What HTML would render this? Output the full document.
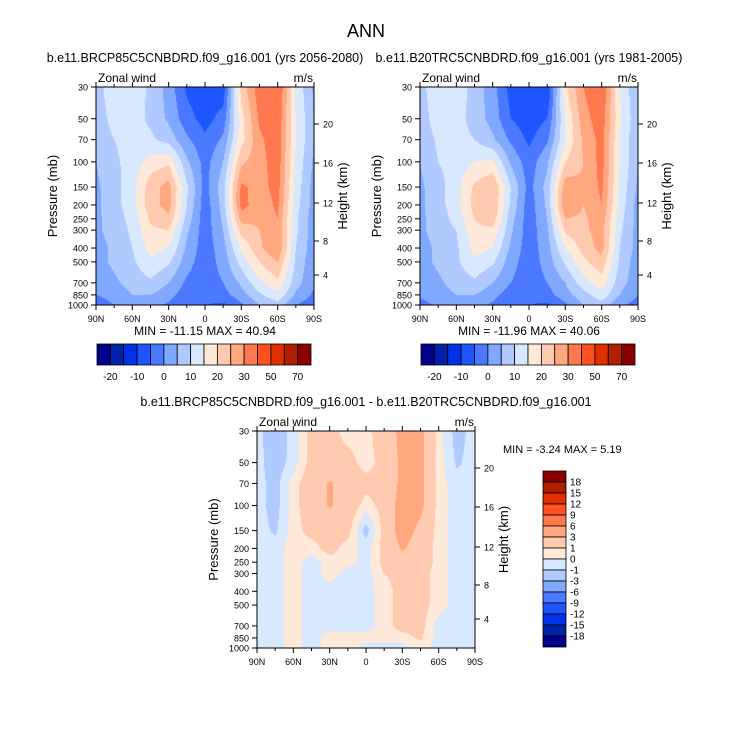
<!DOCTYPE html>
<html><head><meta charset="utf-8">
<style>
html,body{margin:0;padding:0;background:#fff;width:733px;height:741px;overflow:hidden}
canvas{position:absolute}
svg{position:absolute;left:0;top:0}
text{font-family:"Liberation Sans",sans-serif;fill:#000}
</style></head><body>
<canvas id="c1" width="218" height="218" style="left:96px;top:87px"></canvas>
<canvas id="c2" width="218" height="218" style="left:420px;top:87px"></canvas>
<canvas id="c3" width="218" height="217" style="left:257px;top:431px"></canvas>
<svg id="ov" width="733" height="741"></svg>
<script>
const lats=["90N","75N","60N","45N","30N","15N","0","15S","30S","45S","60S","75S","90S"];
const plevs=[30,50,70,100,150,200,250,300,400,500,700,850,1000];
const fieldLevels=[-20,-15,-10,-5,0,5,10,15,20,25,30,40,50,60,70];
const diffLevels=[-18,-15,-12,-9,-6,-3,-1,0,1,3,6,9,12,15,18];
const fieldTickLabels=["-20","-10","0","10","20","30","50","70"];
const heightTicks=[4,8,12,16,20];
const latTickLabels=["90N","60N","30N","0","30S","60S","90S"];
const palette=["#00008a","#0022a8","#0033e6","#1e55ff","#4a78ff","#80a8ff","#b0caff","#d8e8ff","#ffe9d8","#ffcab0","#ffa880","#ff7850","#ff5020","#e03000","#b02000","#8a0000"];
const futureU=[
[8,13,13,9,3,-6,-9,-8,22,33,36,14,4],
[7,12,12,9,4,-3,-7,-3,18,31,34,15,5],
[6,10,12,11,8,1,-4,1,18,29,33,15,5],
[5,9,12,17,19,6,-2,5,24,28,33,14,4],
[4,8,13,23,27,11,-2,8,31,28,32,13,3],
[4,8,13,23,27,10,-3,7,32,27,31,12,3],
[4,7,12,21,24,8,-3,6,27,26,30,11,2],
[4,7,11,19,20,6,-3,5,22,25,29,11,2],
[3,6,10,17,15,4,-3,3,16,24,30,10,2],
[3,6,9,14,11,2,-3,2,12,20,25,9,1],
[2,4,7,9,5,-1,-3,0,6,14,19,7,1],
[0,2,5,5,2,-3,-3,-2,3,9,14,4,-1],
[-3,0,3,2,-1,-5,-5,-6,-1,5,8,0,-3]];
const historicalU=[
[8,14,13,8,2,-7,-10,-10,19,30,35,15,5],
[7,13,12,8,3,-5,-8,-5,15,28,33,16,6],
[6,11,12,10,6,-1,-6,-1,15,26,32,15,5],
[5,10,12,15,16,4,-3,4,20,25,32,15,5],
[4,8,13,21,25,10,-2,7,28,26,31,14,4],
[4,8,13,22,25,9,-3,6,30,25,30,13,3],
[4,7,12,20,23,7,-3,5,25,24,28,12,3],
[4,7,10,19,19,6,-3,4,21,24,27,11,3],
[3,6,9,17,15,4,-3,3,15,22,27,10,3],
[3,6,9,14,11,2,-3,2,11,19,23,9,2],
[2,4,7,9,5,0,-3,0,5,13,18,7,2],
[1,3,5,5,2,-3,-3,-2,3,8,13,5,0],
[-2,1,3,2,-1,-5,-5,-6,-1,5,8,1,-2]];
const diffU=[
[-0.5,-2,-0.5,1.5,1.5,0.5,0.5,2,3.5,3.5,0.5,-1.5,-0.5],
[-0.5,-1.8,-0.5,1.5,1.5,1.5,0.5,1.5,3.5,3.5,0.5,-1.2,-0.5],
[-0.5,-1.5,0.5,2,3.2,2,1.5,1.5,3.5,3.5,0.5,-0.5,-0.5],
[-0.5,-1.5,0.5,2,3.2,2,0.5,1.5,4,3.5,0.5,-0.5,-0.5],
[-0.5,-1.2,0.5,1.5,1.5,1.5,-1.5,1.5,4,2.5,0.5,-0.5,-0.5],
[-0.5,-0.5,0.5,0.5,1.5,0.5,-0.5,1.5,3.2,2,0.5,-0.5,-0.5],
[-0.5,-0.5,0.5,-0.5,0.5,0.5,-0.5,1.5,2,2,0.5,-0.5,-0.5],
[-0.5,-0.5,0.5,-0.5,0.5,-0.5,-0.5,1,1.5,1.5,0.5,-0.5,-0.5],
[-0.5,-0.5,0.5,-0.5,-0.5,-0.5,-0.5,0.5,1.5,1.5,0.5,-0.5,-0.5],
[-0.5,-0.5,0.5,-0.5,-0.5,-0.5,-0.5,0.5,1.5,1.5,0.5,-0.5,-0.5],
[-0.5,-0.5,0.5,-0.5,-0.5,-0.5,-0.5,0.5,1.5,1.5,-0.5,-0.5,-0.5],
[-0.5,-0.5,0.5,-0.5,0.5,0.5,0.5,0.5,0.5,1.2,-0.5,-0.5,-0.5],
[-0.5,-0.5,0.5,-0.5,0.5,0.5,-0.5,-0.5,-0.5,0.5,-0.5,-0.5,-0.5]];

const LN=Math.log(1000/30);
function yOfP(p,H){return H*Math.log(p/30)/LN;}
const lnp=plevs.map(p=>Math.log(p));
function sample(g,fx,lp){
  let c=Math.min(11,Math.max(0,Math.floor(fx))),tx=fx-c;
  let r=0;while(r<11&&lp>lnp[r+1])r++;
  let ty=(lp-lnp[r])/(lnp[r+1]-lnp[r]);ty=Math.max(0,Math.min(1,ty));
  const a=g[r][c],b=g[r][c+1],d=g[r+1][c],e=g[r+1][c+1];
  return (a*(1-tx)+b*tx)*(1-ty)+(d*(1-tx)+e*tx)*ty;
}
function colorFor(v,lv){let i=0;while(i<lv.length&&v>=lv[i])i++;return palette[i];}
function drawField(id,g,lv){
  const cv=document.getElementById(id),ctx=cv.getContext('2d'),W=cv.width,H=cv.height;
  for(let y=0;y<H;y++){const lp=Math.log(30)+(y+0.5)/H*LN;
    for(let x=0;x<W;x++){const fx=(x+0.5)/W*12;
      ctx.fillStyle=colorFor(sample(g,fx,lp),lv);ctx.fillRect(x,y,1,1);}}
}
drawField('c1',futureU,fieldLevels);
drawField('c2',historicalU,fieldLevels);
drawField('c3',diffU,diffLevels);

const NS="http://www.w3.org/2000/svg";
const ov=document.getElementById('ov');
function el(tag,attrs,txt){const e=document.createElementNS(NS,tag);for(const k in attrs)e.setAttribute(k,attrs[k]);if(txt!==undefined)e.textContent=txt;ov.appendChild(e);return e;}
function t(x,y,s,size,anchor,name,rot){const e=el('text',{x:x,y:y,'font-size':size,'text-anchor':anchor||'middle'},s);if(rot)e.setAttribute('transform','rotate(-90 '+x+' '+y+')');

return e;}

t(366,37,"ANN",18,'middle','main-title');
t(205,62,"b.e11.BRCP85C5CNBDRD.f09_g16.001 (yrs 2056-2080)",12.5,'middle','left-subtitle');
t(529,62,"b.e11.B20TRC5CNBDRD.f09_g16.001 (yrs 1981-2005)",12.5,'middle','right-subtitle');
t(366,406,"b.e11.BRCP85C5CNBDRD.f09_g16.001 - b.e11.B20TRC5CNBDRD.f09_g16.001",12.5,'middle','diff-subtitle');

const heightOff=[188,154,116,76,37];
function axes(L,T,W,H,pre,minmax){
  const fr=el('rect',{x:L,y:T,width:W,height:H,fill:'none',stroke:'#000','stroke-width':1});
  
  
  t(L+2,T-5,"Zonal wind",12,'start',pre+'-left-label');
  t(L+W-1,T-5,"m/s",12,'end',pre+'-right-label');
  plevs.forEach(p=>{const y=T+yOfP(p,H);
    const k=el('line',{x1:L-5,x2:L,y1:y,y2:y,stroke:'#000'});
    
    
    t(L-8,y+3.5,String(p),9,'end','pressure-tick-label');});
  heightTicks.forEach((h,i)=>{const y=T+heightOff[i];
    const k=el('line',{x1:L+W,x2:L+W+5,y1:y,y2:y,stroke:'#000'});
    
    
    t(L+W+9,y+3.5,String(h),9,'start','height-tick-label');});
  for(let i=0;i<=12;i++){const x=L+W*i/12,len=(i%2===0)?5:3;
    const a=el('line',{x1:x,x2:x,y1:T+H,y2:T+H+len,stroke:'#000'});
    
    
    const b=el('line',{x1:x,x2:x,y1:T,y2:T-len,stroke:'#000'});
    
    }
  latTickLabels.forEach((s,i)=>t(L+W*i/6,T+H+17,s,9,'middle','lat-tick-label'));
  t(L-39,T+H/2,"Pressure (mb)",13,'middle',pre+'-y-axis-title',true);
  t(L+W+33,T+H/2,"Height (km)",13,'middle',pre+'-y2-axis-title',true);
  if(minmax)t(L+W/2,T+H+30,minmax,12,'middle',pre+'-min-max');
}
axes(96,87,218,218,'future',"MIN = -11.15  MAX =  40.94");
axes(420,87,218,218,'historical',"MIN = -11.96  MAX =  40.06");
axes(257,431,218,217,'diff',null);
t(503,453,"MIN =  -3.24  MAX =   5.19",11,'start','diff-min-max');

function hbar(L,T,W,H,pre){
  const bw=W/16;
  palette.forEach((c,i)=>{const r=el('rect',{x:L+i*bw,y:T,width:bw,height:H,fill:c,stroke:'#000','stroke-width':0.8});
    
    });
  fieldTickLabels.forEach((s,j)=>t(L+bw*(2*j+1),T+H+15,s,10,'middle',pre+'-colorbar-label'));
}
hbar(97,344,214,21,'future');
hbar(421,344,214,21,'historical');
(function(){const L=543,T=471,W=23,H=176,bh=H/16;
  for(let i=0;i<16;i++){const r=el('rect',{x:L,y:T+i*bh,width:W,height:bh,fill:palette[15-i],stroke:'#000','stroke-width':0.8});
    
    }
  for(let k=1;k<=15;k++){t(L+W+4,T+k*bh+3.5,String(diffLevels[15-k]),10,'start','diff-colorbar-label');}
})();
</script>
</body></html>
